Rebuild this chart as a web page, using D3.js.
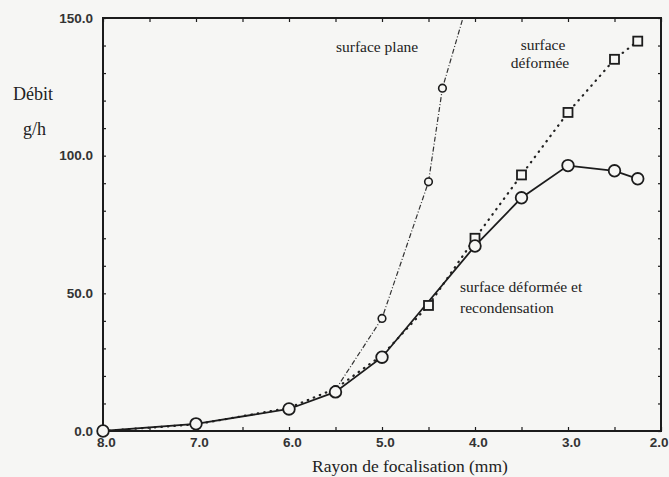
<!DOCTYPE html>
<html><head><meta charset="utf-8">
<script src="https://cdn.jsdelivr.net/npm/d3@7"></script>
<style>
html,body{margin:0;padding:0;background:#f6f6f4;}
svg{display:block;}
</style></head>
<body>
<svg id="c" width="669" height="477"></svg>
<script>
// ---- data ----
const xTicks = [8.0, 7.0, 6.0, 5.0, 4.0, 3.0, 2.0];
const yTicks = [0, 50, 100, 150];
// surface déformée et recondensation (solid, open circles)
const recondX = [8.0, 7.0, 6.0, 5.5, 5.0, 4.0, 3.5, 3.0, 2.5, 2.25];
const recondY = [0.0, 2.6, 8.0, 14.2, 26.8, 67.2, 84.7, 96.4, 94.5, 91.6];
// surface déformée (dotted, open squares)
const deformX = [8.0, 7.0, 6.0, 5.5, 5.0, 4.5, 4.0, 3.5, 3.0, 2.5, 2.25];
const deformY = [0.0, 2.4, 8.4, 15.4, 27.5, 45.6, 70.0, 93.0, 115.7, 135.0, 141.6];
// surface plane (dash-dot, small circles)
const planeX = [5.5, 5.0, 4.5, 4.35, 4.0];
const planeY = [15.0, 40.9, 90.5, 124.5, 165.0];

const svg = d3.select("#c");
const m = {l:103, r:661, t:18, b:431};
const x = d3.scaleLinear().domain([8, 2]).range([m.l, m.r]);
const y = d3.scaleLinear().domain([0, 150]).range([m.b, m.t]);
const ink = "#1c1c1c";

svg.append("defs").append("clipPath").attr("id","clip")
  .append("rect").attr("x", m.l).attr("y", m.t).attr("width", m.r-m.l).attr("height", m.b-m.t);

// frame
svg.append("rect").attr("x", m.l).attr("y", m.t).attr("width", m.r-m.l).attr("height", m.b-m.t)
  .attr("fill","none").attr("stroke", ink).attr("stroke-width", 2);

// axes (inward ticks)
const minorX = d3.range(8, 1.99, -0.5);
const gxB = svg.append("g").attr("transform", `translate(0,${m.b})`)
  .call(d3.axisTop(x).tickValues(minorX).tickSize(4).tickFormat(""));
const gxT = svg.append("g").attr("transform", `translate(0,${m.t})`)
  .call(d3.axisBottom(x).tickValues(minorX).tickSize(4).tickFormat(""));
const gyL = svg.append("g").attr("transform", `translate(${m.l},0)`)
  .call(d3.axisRight(y).tickValues(d3.range(0,151,10)).tickSize(3).tickFormat(""));
const gyR = svg.append("g").attr("transform", `translate(${m.r},0)`)
  .call(d3.axisLeft(y).tickValues(d3.range(0,151,10)).tickSize(3).tickFormat(""));
[gxB,gxT,gyL,gyR].forEach(g=>{g.select(".domain").remove(); g.selectAll("line").attr("stroke", ink).attr("stroke-width",1.2);});

// tick labels
const gxl = svg.append("g").attr("transform", `translate(3,${m.b})`)
  .call(d3.axisBottom(x).tickValues(xTicks).tickSize(0).tickPadding(6).tickFormat(d3.format(".1f")));
gxl.select(".domain").remove();
gxl.selectAll("text").attr("font-family","Liberation Sans, Arial, sans-serif").attr("font-weight","bold")
  .attr("font-size",13.5).attr("fill","#333")
  .filter(d=>d===2).attr("text-anchor","end").attr("dx", 4);
const gyl = svg.append("g").attr("transform", `translate(${m.l},0)`)
  .call(d3.axisLeft(y).tickValues(yTicks).tickSize(0).tickPadding(10).tickFormat(d3.format(".1f")));
gyl.select(".domain").remove();
gyl.selectAll("text").attr("font-family","Liberation Sans, Arial, sans-serif").attr("font-weight","bold")
  .attr("font-size",13.5).attr("fill","#333");

// axis titles
const serif = "Liberation Serif, Times New Roman, serif";
svg.append("text").attr("x",13).attr("y",100).attr("font-family",serif).attr("font-size",18).attr("fill","#222").text("Débit");
svg.append("text").attr("x",23).attr("y",135).attr("font-family",serif).attr("font-size",18).attr("fill","#222").text("g/h");
svg.append("text").attr("x",410).attr("y",472).attr("text-anchor","middle").attr("font-family",serif).attr("font-size",17.5).attr("fill","#222").text("Rayon de focalisation (mm)");

// series
const plot = svg.append("g").attr("clip-path","url(#clip)");
const line = d3.line().x(d=>x(d[0])).y(d=>y(d[1]));
const recond = recondX.map((v,i)=>[v, recondY[i]]);
const deform = deformX.map((v,i)=>[v, deformY[i]]);
const plane = planeX.map((v,i)=>[v, planeY[i]]);

plot.append("path").datum(plane).attr("d", line).attr("fill","none").attr("stroke","#333")
  .attr("stroke-width",1.2).attr("stroke-dasharray","5,2,1,2");
plot.append("path").datum(deform).attr("d", line).attr("fill","none").attr("stroke","#222")
  .attr("stroke-width",2.2).attr("stroke-linecap","round").attr("stroke-dasharray","0.5,6");
plot.append("path").datum(recond).attr("d", line).attr("fill","none").attr("stroke",ink)
  .attr("stroke-width",1.8);

plot.selectAll(".sq").data(deform.filter(d=>d[0] < 5)).join("rect").attr("class","sq")
  .attr("x", d=>x(d[0])-4.5).attr("y", d=>y(d[1])-4.5).attr("width",9).attr("height",9)
  .attr("fill","#f6f6f4").attr("stroke",ink).attr("stroke-width",1.8);
plot.selectAll(".pc").data(plane).join("circle").attr("class","pc")
  .attr("cx", d=>x(d[0])).attr("cy", d=>y(d[1])).attr("r",3.8)
  .attr("fill","#f6f6f4").attr("stroke",ink).attr("stroke-width",1.6);
svg.selectAll(".rc").data(recond).join("circle").attr("class","rc")
  .attr("cx", d=>x(d[0])).attr("cy", d=>y(d[1])).attr("r",5.8)
  .attr("fill","#f6f6f4").attr("stroke",ink).attr("stroke-width",1.8);

// in-plot labels
const lab = (t,xx,yy,anchor)=>svg.append("text").attr("x",xx).attr("y",yy).attr("text-anchor",anchor||"start")
  .attr("font-family",serif).attr("font-size",15.5).attr("fill","#222").text(t);
lab("surface plane",336,52);
lab("surface",543,50,"middle");
lab("déformée",540,68,"middle");
lab("surface déformée et",460,292);
lab("recondensation",460,313);
</script>
</body></html>
